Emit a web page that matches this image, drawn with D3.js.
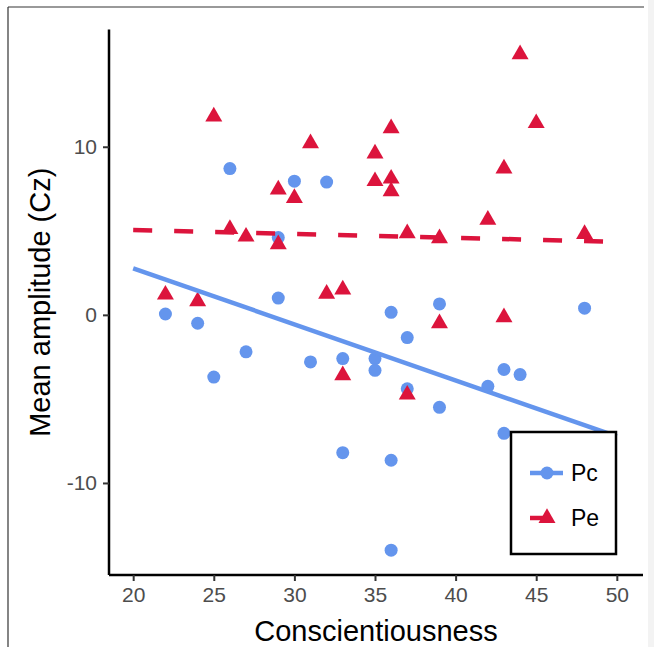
<!DOCTYPE html>
<html>
<head>
<meta charset="utf-8">
<script src="https://cdn.jsdelivr.net/npm/d3@7"></script>
<style>
  body { margin: 0; background: #fff; }
  svg { display: block; font-family: "Liberation Sans", Arial, sans-serif; }
</style>
</head>
<body>
<div id="chart"></div>
<script>
// Conscientiousness score and mean amplitude per participant
const pcX = [22, 24, 25, 26, 27, 29, 29, 30, 31, 32, 33, 33, 35, 35, 36, 36, 36, 37, 37, 39, 39, 42, 43, 43, 44, 48];
const pcY = [0.05, -0.5, -3.7, 8.7, -2.2, 4.6, 1.0, 7.95, -2.8, 7.9, -2.6, -8.2, -2.6, -3.3, 0.15, -8.65, -14.0, -1.35, -4.4, 0.65, -5.5, -4.25, -3.25, -7.05, -3.55, 0.4];
const peX = [22, 24, 25, 26, 27, 29, 29, 30, 31, 32, 33, 33, 35, 35, 36, 36, 36, 37, 37, 39, 39, 42, 43, 43, 44, 45, 48];
const peY = [1.2, 0.8, 11.8, 5.1, 4.65, 7.45, 4.2, 6.95, 10.2, 1.25, 1.5, -3.6, 9.6, 7.95, 11.1, 8.1, 7.35, 4.85, -4.75, 4.55, -0.5, 5.65, 8.7, -0.15, 15.5, 11.4, 4.8];

// linear fit end points (x = 20 and x = 50)
const fitX = [20, 50];
const pcFitY = [2.77, -7.23];
const peFitY = [5.05, 4.35];

const xTicks = [20, 25, 30, 35, 40, 45, 50];
const yTicks = [-10, 0, 10];
const seriesNames = ['Pc', 'Pe'];

const W = 654, H = 647;
const pcColor = '#6495ED';
const peColor = '#DC143C';

const svg = d3.select('#chart').append('svg')
  .attr('width', W)
  .attr('height', H);

// outer frame of the figure
svg.append('rect').attr('x', 648).attr('y', 0).attr('width', 6).attr('height', H).attr('fill', '#f3f3f3');
svg.append('line').attr('x1', 8).attr('x2', 644).attr('y1', 7).attr('y2', 7)
  .attr('stroke', '#777').attr('stroke-width', 1.5);
svg.append('line').attr('x1', 8).attr('x2', 8).attr('y1', 7).attr('y2', H)
  .attr('stroke', '#333').attr('stroke-width', 1.2);

const x = d3.scaleLinear().domain([18.5, 51.5]).range([109, 641]);
const y = d3.scaleLinear().domain([-15.475, 16.975]).range([575, 29.5]);

// Axes
const xAxis = svg.append('g')
  .attr('transform', `translate(0,${y.range()[0]})`)
  .call(d3.axisBottom(x).tickValues(xTicks).tickFormat(d => String(d))
    .tickSize(6).tickPadding(6).tickSizeOuter(0));
const yAxis = svg.append('g')
  .attr('transform', `translate(${x.range()[0]},0)`)
  .call(d3.axisLeft(y).tickValues(yTicks).tickFormat(d => String(d))
    .tickSize(6).tickPadding(6).tickSizeOuter(0));

[xAxis, yAxis].forEach(ax => {
  ax.select('.domain').attr('stroke', '#000').attr('stroke-width', 2.5);
  ax.selectAll('.tick line').attr('stroke', '#333').attr('stroke-width', 2);
  ax.selectAll('.tick text')
    .attr('fill', '#4d4d4d')
    .style('font-size', '21px')
    .style('font-family', '"Liberation Sans", Arial, sans-serif');
});
// let x axis line run to panel edge
xAxis.select('.domain').attr('d', `M${x.range()[0]},0H643`);
yAxis.select('.domain').attr('d', `M0,${y.range()[0]}V${y.range()[1]}`);

// Points
const pcData = pcX.map((v, i) => ({ x: v, y: pcY[i] }));
const peData = peX.map((v, i) => ({ x: v, y: peY[i] }));

svg.append('g').selectAll('circle')
  .data(pcData)
  .join('circle')
  .attr('cx', d => x(d.x))
  .attr('cy', d => y(d.y))
  .attr('r', 6.5)
  .attr('fill', pcColor);

const tri = d3.symbol().type(d3.symbolTriangle).size(125);
svg.append('g').selectAll('path')
  .data(peData)
  .join('path')
  .attr('transform', d => `translate(${x(d.x)},${y(d.y)})`)
  .attr('d', tri)
  .attr('fill', peColor);

// Fit lines
const line = d3.line().x(d => x(d[0])).y(d => y(d[1]));
svg.append('path')
  .datum(fitX.map((v, i) => [v, pcFitY[i]]))
  .attr('d', line)
  .attr('fill', 'none')
  .attr('stroke', pcColor)
  .attr('stroke-width', 4.5);
svg.append('path')
  .datum(fitX.map((v, i) => [v, peFitY[i]]))
  .attr('d', line)
  .attr('fill', 'none')
  .attr('stroke', peColor)
  .attr('stroke-width', 4.5)
  .attr('stroke-dasharray', '19,22');

// Axis titles
svg.append('text')
  .attr('x', 376)
  .attr('y', 641)
  .attr('text-anchor', 'middle')
  .style('font-size', '29px')
  .attr('fill', '#000')
  .text('Conscientiousness');

svg.append('text')
  .attr('transform', `translate(50,${(y.range()[0] + y.range()[1]) / 2}) rotate(-90)`)
  .attr('text-anchor', 'middle')
  .style('font-size', '29px')
  .attr('fill', '#000')
  .text('Mean amplitude (Cz)');

// Legend
const legend = svg.append('g');
legend.append('rect')
  .attr('x', 511).attr('y', 432)
  .attr('width', 105).attr('height', 122)
  .attr('fill', '#fff')
  .attr('stroke', '#000')
  .attr('stroke-width', 2.5);

const keyY = [473, 518];
seriesNames.forEach((name, i) => {
  const g = legend.append('g').attr('transform', `translate(0,${keyY[i]})`);
  if (i === 0) {
    g.append('line').attr('x1', 530).attr('x2', 563).attr('y1', 0).attr('y2', 0)
      .attr('stroke', pcColor).attr('stroke-width', 4.5);
    g.append('circle').attr('cx', 547).attr('cy', 0).attr('r', 6.5).attr('fill', pcColor);
  } else {
    g.append('line').attr('x1', 530).attr('x2', 563).attr('y1', 0).attr('y2', 0)
      .attr('stroke', peColor).attr('stroke-width', 4.5).attr('stroke-dasharray', '19,22');
    g.append('path').attr('transform', 'translate(547,0)').attr('d', tri).attr('fill', peColor);
  }
  g.append('text')
    .attr('x', 571)
    .attr('y', 8)
    .style('font-size', '23px')
    .attr('fill', '#000')
    .text(name);
});
</script>
</body>
</html>
